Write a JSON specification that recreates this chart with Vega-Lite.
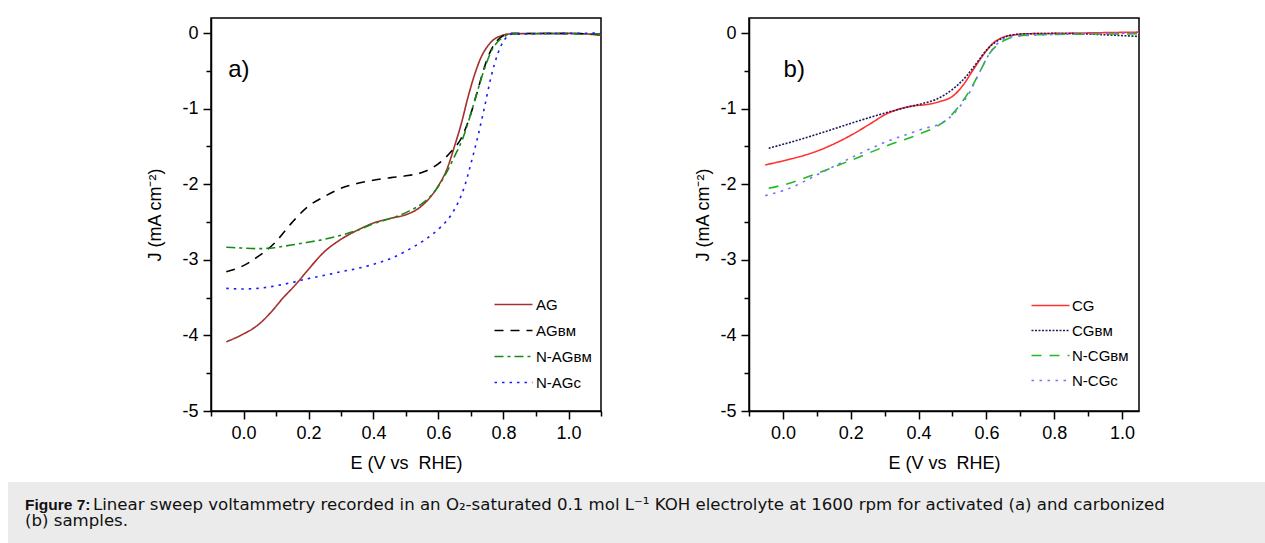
{
  "$schema": "https://vega.github.io/schema/vega-lite/v6.json",
  "padding": {"left": 8, "top": 17, "right": 0, "bottom": 0},
  "background": "white",
  "config": {
    "font": "Liberation Sans",
    "view": {"stroke": "black", "strokeWidth": 1.5},
    "axis": {
      "grid": false, "domainColor": "black", "domainWidth": 1.5, "tickColor": "black", "tickWidth": 1.5,
      "labelFont": "Liberation Sans", "labelFontSize": 18, "labelColor": "black",
      "titleFont": "Liberation Sans", "titleFontSize": 18, "titleFontWeight": "normal", "titleColor": "black"
    },
    "legend": {"labelFont": "Liberation Sans", "labelFontSize": 15, "labelColor": "black"}
  },
  "vconcat": [
    {
      "spacing": 90,
      "resolve": {"scale": {"color": "independent", "strokeDash": "independent"}, "legend": {"color": "independent", "strokeDash": "independent"}},
      "hconcat": [
        {"width": 47, "height": 10, "view": {"stroke": null}, "data": {"values": []}, "mark": "point", "encoding": {}},
        {
          "width": 390, "height": 393,
          "data": {"values": [
            {"s":"AG","E":-0.053,"J":-4.084},{"s":"AG","E":-0.007,"J":-3.996},{"s":"AG","E":0.044,"J":-3.863},{"s":"AG","E":0.095,"J":-3.642},{"s":"AG","E":0.116,"J":-3.532},{"s":"AG","E":0.162,"J":-3.32},{"s":"AG","E":0.198,"J":-3.135},{"s":"AG","E":0.249,"J":-2.892},{"s":"AG","E":0.3,"J":-2.728},{"s":"AG","E":0.352,"J":-2.605},{"s":"AG","E":0.403,"J":-2.508},{"s":"AG","E":0.454,"J":-2.45},{"s":"AG","E":0.506,"J":-2.393},{"s":"AG","E":0.536,"J":-2.327},{"s":"AG","E":0.567,"J":-2.208},{"s":"AG","E":0.598,"J":-2.031},{"s":"AG","E":0.629,"J":-1.766},{"s":"AG","E":0.649,"J":-1.5},{"s":"AG","E":0.67,"J":-1.2},{"s":"AG","E":0.69,"J":-0.86},{"s":"AG","E":0.711,"J":-0.55},{"s":"AG","E":0.731,"J":-0.32},{"s":"AG","E":0.752,"J":-0.168},{"s":"AG","E":0.772,"J":-0.079},{"s":"AG","E":0.793,"J":-0.035},{"s":"AG","E":0.813,"J":-0.013},{"s":"AG","E":0.916,"J":-0.004},{"s":"AG","E":1.018,"J":-0.004},{"s":"AG","E":1.1,"J":-0.031},
            {"s":"AGBM","E":-0.053,"J":-3.157},{"s":"AGBM","E":-0.007,"J":-3.091},{"s":"AGBM","E":0.044,"J":-2.958},{"s":"AGBM","E":0.095,"J":-2.781},{"s":"AGBM","E":0.147,"J":-2.517},{"s":"AGBM","E":0.198,"J":-2.296},{"s":"AGBM","E":0.249,"J":-2.163},{"s":"AGBM","E":0.3,"J":-2.053},{"s":"AGBM","E":0.352,"J":-1.987},{"s":"AGBM","E":0.403,"J":-1.943},{"s":"AGBM","E":0.454,"J":-1.912},{"s":"AGBM","E":0.506,"J":-1.885},{"s":"AGBM","E":0.557,"J":-1.832},{"s":"AGBM","E":0.608,"J":-1.7},{"s":"AGBM","E":0.639,"J":-1.567},{"s":"AGBM","E":0.67,"J":-1.391},{"s":"AGBM","E":0.7,"J":-1.06},{"s":"AGBM","E":0.721,"J":-0.751},{"s":"AGBM","E":0.742,"J":-0.442},{"s":"AGBM","E":0.762,"J":-0.221},{"s":"AGBM","E":0.783,"J":-0.088},{"s":"AGBM","E":0.803,"J":-0.026},{"s":"AGBM","E":0.824,"J":-0.004},{"s":"AGBM","E":1.1,"J":-0.009},
            {"s":"NAGBM","E":-0.053,"J":-2.834},{"s":"NAGBM","E":-0.007,"J":-2.843},{"s":"NAGBM","E":0.044,"J":-2.852},{"s":"NAGBM","E":0.095,"J":-2.839},{"s":"NAGBM","E":0.147,"J":-2.804},{"s":"NAGBM","E":0.198,"J":-2.768},{"s":"NAGBM","E":0.249,"J":-2.728},{"s":"NAGBM","E":0.3,"J":-2.675},{"s":"NAGBM","E":0.352,"J":-2.605},{"s":"NAGBM","E":0.403,"J":-2.517},{"s":"NAGBM","E":0.454,"J":-2.45},{"s":"NAGBM","E":0.506,"J":-2.362},{"s":"NAGBM","E":0.557,"J":-2.23},{"s":"NAGBM","E":0.588,"J":-2.097},{"s":"NAGBM","E":0.618,"J":-1.898},{"s":"NAGBM","E":0.649,"J":-1.634},{"s":"NAGBM","E":0.675,"J":-1.391},{"s":"NAGBM","E":0.7,"J":-1.06},{"s":"NAGBM","E":0.721,"J":-0.751},{"s":"NAGBM","E":0.742,"J":-0.464},{"s":"NAGBM","E":0.762,"J":-0.243},{"s":"NAGBM","E":0.783,"J":-0.11},{"s":"NAGBM","E":0.803,"J":-0.044},{"s":"NAGBM","E":0.824,"J":-0.009},{"s":"NAGBM","E":1.1,"J":-0.009},
            {"s":"NAGC","E":-0.053,"J":-3.377},{"s":"NAGC","E":-0.007,"J":-3.386},{"s":"NAGC","E":0.044,"J":-3.377},{"s":"NAGC","E":0.095,"J":-3.347},{"s":"NAGC","E":0.147,"J":-3.302},{"s":"NAGC","E":0.198,"J":-3.249},{"s":"NAGC","E":0.249,"J":-3.205},{"s":"NAGC","E":0.3,"J":-3.157},{"s":"NAGC","E":0.352,"J":-3.113},{"s":"NAGC","E":0.403,"J":-3.055},{"s":"NAGC","E":0.454,"J":-2.98},{"s":"NAGC","E":0.506,"J":-2.87},{"s":"NAGC","E":0.557,"J":-2.737},{"s":"NAGC","E":0.608,"J":-2.561},{"s":"NAGC","E":0.639,"J":-2.406},{"s":"NAGC","E":0.659,"J":-2.252},{"s":"NAGC","E":0.68,"J":-2.031},{"s":"NAGC","E":0.7,"J":-1.722},{"s":"NAGC","E":0.721,"J":-1.369},{"s":"NAGC","E":0.742,"J":-0.971},{"s":"NAGC","E":0.762,"J":-0.574},{"s":"NAGC","E":0.783,"J":-0.265},{"s":"NAGC","E":0.803,"J":-0.088},{"s":"NAGC","E":0.824,"J":-0.013},{"s":"NAGC","E":1.1,"J":0.0}
          ]},
          "layer": [
            {
              "mark": {"type": "line", "interpolate": "monotone", "strokeWidth": 1.6, "clip": true},
              "encoding": {
                "x": {"field": "E", "type": "quantitative", "scale": {"domain": [-0.1, 1.1], "nice": false, "zero": false},
                  "axis": {"title": "E (V vs\u00a0 RHE)", "values": [-0.1,0,0.1,0.2,0.3,0.4,0.5,0.6,0.7,0.8,0.9,1.0,1.1], "tickCount": 40,
                    "format": ".1f",
                    "labelExpr": "datum.value >= 0 && floor(datum.value*10+0.5) % 2 == 0 ? datum.label : ''",
                    "tickSize": {"condition": {"test": "floor(datum.value*10+0.5) % 2 == 0", "value": 8}, "value": 5},
                    "labelPadding": 5, "minExtent": 30, "maxExtent": 30, "titlePadding": 13, "labelOverlap": false, "labelFlush": false}},
                "y": {"field": "J", "type": "quantitative", "scale": {"domain": [-5, 0.2], "nice": false, "zero": false},
                  "axis": {"title": "J (mA cm\u207b\u00b2)", "values": [-5,-4.5,-4,-3.5,-3,-2.5,-2,-1.5,-1,-0.5,0], "tickCount": 40,
                    "labelExpr": "datum.value%1==0 ? '' + datum.value : ''",
                    "tickSize": {"condition": {"test": "datum.value%1==0", "value": 8}, "value": 5},
                    "labelPadding": 5, "minExtent": 30, "maxExtent": 30, "titlePadding": 17, "labelOverlap": false, "labelFlush": false}},
                "color": {"field": "s", "type": "nominal",
                  "scale": {"domain": ["AG","AGBM","NAGBM","NAGC"], "range": ["#a3302f","#000000","#168a16","#1a1aff"]},
                  "legend": {"orient": "none", "legendX": 281, "legendY": 279, "title": null, "symbolType": "M-3.8,0H3.8", "symbolSize": 100, "symbolOffset": 14, "symbolStrokeWidth": 1.6, "symbolFillColor": "transparent", "labelOffset": 15, "rowPadding": 10, "padding": 0,
                    "labelExpr": "{'AG':'AG','AGBM':'AG\u0299\u1d0d','NAGBM':'N-AG\u0299\u1d0d','NAGC':'N-AG\u1d04'}[datum.label]"}},
                "strokeDash": {"field": "s", "type": "nominal",
                  "scale": {"domain": ["AG","AGBM","NAGBM","NAGC"], "range": [[1,0],[9,7],[9,4,3,4],[2.5,5]]},
                  "legend": {"orient": "none", "legendX": 281, "legendY": 279, "title": null, "symbolType": "M-3.8,0H3.8", "symbolSize": 100, "symbolOffset": 14, "symbolStrokeWidth": 1.6, "symbolFillColor": "transparent", "labelOffset": 15, "rowPadding": 10, "padding": 0,
                    "labelExpr": "{'AG':'AG','AGBM':'AG\u0299\u1d0d','NAGBM':'N-AG\u0299\u1d0d','NAGC':'N-AG\u1d04'}[datum.label]"}}
              }
            },
            {
              "data": {"values": [{"label": "a)"}]},
              "mark": {"type": "text", "fontSize": 24, "align": "left", "baseline": "middle", "font": "Liberation Sans"},
              "encoding": {"text": {"field": "label"}, "x": {"datum": -0.047}, "y": {"datum": -0.49}}
            }
          ]
        },
        {
          "width": 390, "height": 393,
          "data": {"values": [
            {"s":"CG","E":-0.052,"J":-1.744},{"s":"CG","E":0.012,"J":-1.678},{"s":"CG","E":0.061,"J":-1.62},{"s":"CG","E":0.11,"J":-1.545},{"s":"CG","E":0.159,"J":-1.448},{"s":"CG","E":0.208,"J":-1.333},{"s":"CG","E":0.257,"J":-1.201},{"s":"CG","E":0.306,"J":-1.068},{"s":"CG","E":0.345,"J":-1.002},{"s":"CG","E":0.385,"J":-0.962},{"s":"CG","E":0.424,"J":-0.945},{"s":"CG","E":0.463,"J":-0.905},{"s":"CG","E":0.502,"J":-0.83},{"s":"CG","E":0.532,"J":-0.684},{"s":"CG","E":0.561,"J":-0.486},{"s":"CG","E":0.591,"J":-0.287},{"s":"CG","E":0.62,"J":-0.132},{"s":"CG","E":0.65,"J":-0.053},{"s":"CG","E":0.679,"J":-0.026},{"s":"CG","E":0.718,"J":-0.009},{"s":"CG","E":0.797,"J":-0.004},{"s":"CG","E":1.049,"J":0.013},
            {"s":"CGBM","E":-0.042,"J":-1.523},{"s":"CGBM","E":0.012,"J":-1.457},{"s":"CGBM","E":0.11,"J":-1.325},{"s":"CGBM","E":0.208,"J":-1.183},{"s":"CGBM","E":0.306,"J":-1.051},{"s":"CGBM","E":0.355,"J":-0.993},{"s":"CGBM","E":0.404,"J":-0.94},{"s":"CGBM","E":0.453,"J":-0.874},{"s":"CGBM","E":0.502,"J":-0.737},{"s":"CGBM","E":0.542,"J":-0.565},{"s":"CGBM","E":0.571,"J":-0.397},{"s":"CGBM","E":0.601,"J":-0.221},{"s":"CGBM","E":0.63,"J":-0.11},{"s":"CGBM","E":0.659,"J":-0.044},{"s":"CGBM","E":0.699,"J":-0.013},{"s":"CGBM","E":0.797,"J":-0.004},{"s":"CGBM","E":1.049,"J":-0.044},
            {"s":"NCGBM","E":-0.042,"J":-2.053},{"s":"NCGBM","E":0.012,"J":-1.996},{"s":"NCGBM","E":0.11,"J":-1.841},{"s":"NCGBM","E":0.208,"J":-1.669},{"s":"NCGBM","E":0.306,"J":-1.492},{"s":"NCGBM","E":0.404,"J":-1.333},{"s":"NCGBM","E":0.453,"J":-1.236},{"s":"NCGBM","E":0.493,"J":-1.104},{"s":"NCGBM","E":0.522,"J":-0.949},{"s":"NCGBM","E":0.552,"J":-0.751},{"s":"NCGBM","E":0.581,"J":-0.508},{"s":"NCGBM","E":0.61,"J":-0.265},{"s":"NCGBM","E":0.64,"J":-0.132},{"s":"NCGBM","E":0.669,"J":-0.066},{"s":"NCGBM","E":0.718,"J":-0.026},{"s":"NCGBM","E":0.797,"J":-0.018},{"s":"NCGBM","E":1.049,"J":-0.009},
            {"s":"NCGC","E":-0.052,"J":-2.15},{"s":"NCGC","E":0.012,"J":-2.066},{"s":"NCGC","E":0.11,"J":-1.854},{"s":"NCGC","E":0.208,"J":-1.634},{"s":"NCGC","E":0.306,"J":-1.435},{"s":"NCGC","E":0.404,"J":-1.28},{"s":"NCGC","E":0.483,"J":-1.148},{"s":"NCGC","E":0.522,"J":-0.971},{"s":"NCGC","E":0.552,"J":-0.773},{"s":"NCGC","E":0.581,"J":-0.508},{"s":"NCGC","E":0.61,"J":-0.265},{"s":"NCGC","E":0.64,"J":-0.11},{"s":"NCGC","E":0.669,"J":-0.053},{"s":"NCGC","E":0.748,"J":-0.026},{"s":"NCGC","E":1.049,"J":0.0}
          ]},
          "layer": [
            {
              "mark": {"type": "line", "interpolate": "monotone", "strokeWidth": 1.6, "clip": true},
              "encoding": {
                "x": {"field": "E", "type": "quantitative", "scale": {"domain": [-0.1, 1.05], "nice": false, "zero": false},
                  "axis": {"title": "E (V vs\u00a0 RHE)", "values": [-0.1,0,0.1,0.2,0.3,0.4,0.5,0.6,0.7,0.8,0.9,1.0], "tickCount": 40,
                    "format": ".1f",
                    "labelExpr": "datum.value >= 0 && floor(datum.value*10+0.5) % 2 == 0 ? datum.label : ''",
                    "tickSize": {"condition": {"test": "floor(datum.value*10+0.5) % 2 == 0", "value": 8}, "value": 5},
                    "labelPadding": 5, "minExtent": 30, "maxExtent": 30, "titlePadding": 13, "labelOverlap": false, "labelFlush": false}},
                "y": {"field": "J", "type": "quantitative", "scale": {"domain": [-5, 0.2], "nice": false, "zero": false},
                  "axis": {"title": "J (mA cm\u207b\u00b2)", "values": [-5,-4.5,-4,-3.5,-3,-2.5,-2,-1.5,-1,-0.5,0], "tickCount": 40,
                    "labelExpr": "datum.value%1==0 ? '' + datum.value : ''",
                    "tickSize": {"condition": {"test": "datum.value%1==0", "value": 8}, "value": 5},
                    "labelPadding": 5, "minExtent": 30, "maxExtent": 30, "titlePadding": 7, "labelOverlap": false, "labelFlush": false}},
                "color": {"field": "s", "type": "nominal",
                  "scale": {"domain": ["CG","CGBM","NCGBM","NCGC"], "range": ["#ff3030","#1c1c5a","#20bb20","#7373ff"]},
                  "legend": {"orient": "none", "legendX": 280, "legendY": 280, "title": null, "symbolType": "M-3.8,0H3.8", "symbolSize": 100, "symbolOffset": 14, "symbolStrokeWidth": 1.6, "symbolFillColor": "transparent", "labelOffset": 14, "rowPadding": 9, "padding": 0,
                    "labelExpr": "{'CG':'CG','CGBM':'CG\u0299\u1d0d','NCGBM':'N-CG\u0299\u1d0d','NCGC':'N-CG\u1d04'}[datum.label]"}},
                "strokeDash": {"field": "s", "type": "nominal",
                  "scale": {"domain": ["CG","CGBM","NCGBM","NCGC"], "range": [[1,0],[2,1.5],[10,8],[2.5,5.5]]},
                  "legend": {"orient": "none", "legendX": 280, "legendY": 280, "title": null, "symbolType": "M-3.8,0H3.8", "symbolSize": 100, "symbolOffset": 14, "symbolStrokeWidth": 1.6, "symbolFillColor": "transparent", "labelOffset": 14, "rowPadding": 9, "padding": 0,
                    "labelExpr": "{'CG':'CG','CGBM':'CG\u0299\u1d0d','NCGBM':'N-CG\u0299\u1d0d','NCGC':'N-CG\u1d04'}[datum.label]"}}
              }
            },
            {
              "data": {"values": [{"label": "b)"}]},
              "mark": {"type": "text", "fontSize": 24, "align": "left", "baseline": "middle", "font": "Liberation Sans"},
              "encoding": {"text": {"field": "label"}, "x": {"datum": 0.002}, "y": {"datum": -0.49}}
            }
          ]
        }
      ]
    },
    {
      "width": 1257, "height": 62,
      "view": {"fill": "#ebebeb", "stroke": null},
      "data": {"values": [
        {"line": 1, "w": "bold", "t": "Figure 7:"},
        {"line": 1, "w": "normal", "t": "Linear sweep voltammetry recorded in an O\u2082-saturated 0.1 mol L\u207b\u00b9 KOH electrolyte at 1600 rpm for activated (a) and carbonized"},
        {"line": 2, "w": "normal", "t": "(b) samples."}
      ]},
      "encoding": {
        "y": {"field": "line", "type": "ordinal", "scale": {"type": "point", "domain": [1, 2], "range": [28, 44], "padding": 0}, "axis": null},
        "text": {"field": "t"}
      },
      "layer": [
        {"transform": [{"filter": "datum.w == 'bold'"}],
         "mark": {"type": "text", "align": "left", "baseline": "alphabetic", "fontSize": 15.5, "fontWeight": "bold", "font": "Liberation Sans", "color": "#111"},
         "encoding": {"x": {"value": 17}}},
        {"transform": [{"filter": "datum.w == 'normal' && datum.line == 1"}],
         "mark": {"type": "text", "align": "left", "baseline": "alphabetic", "fontSize": 16.6, "font": "DejaVu Sans", "color": "#111", "dx": 68},
         "encoding": {"x": {"value": 17}}},
        {"transform": [{"filter": "datum.line == 2"}],
         "mark": {"type": "text", "align": "left", "baseline": "alphabetic", "fontSize": 16.6, "font": "DejaVu Sans", "color": "#111"},
         "encoding": {"x": {"value": 17}}}
      ]
    }
  ],
  "spacing": 9
}
